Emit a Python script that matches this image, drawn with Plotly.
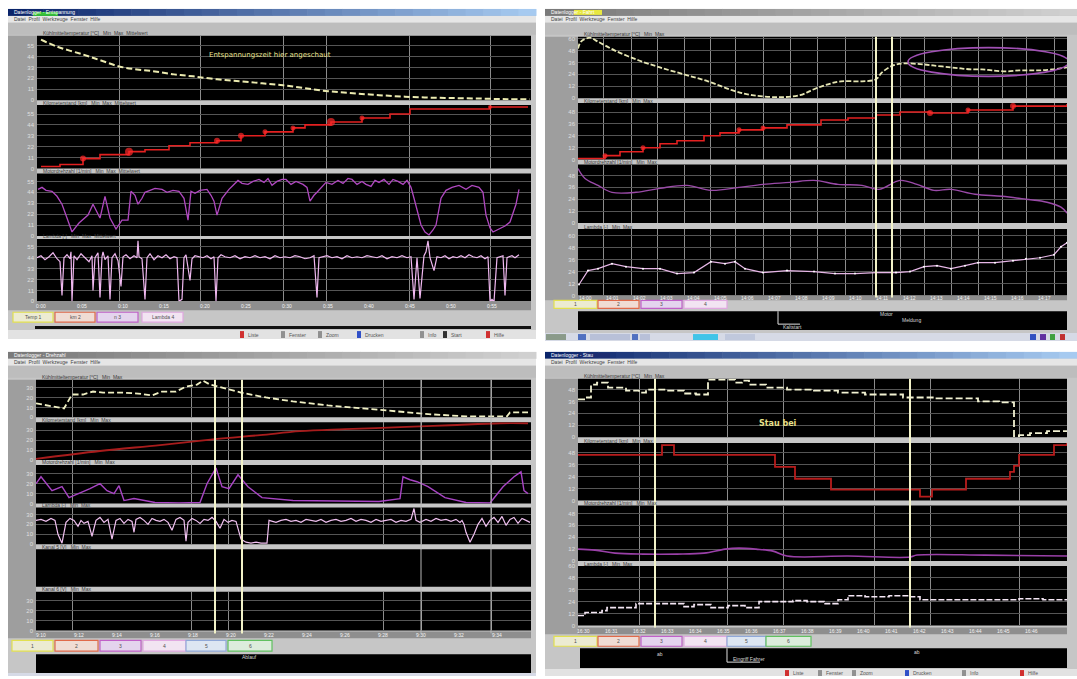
import plotly.graph_objects as go

W, H = 1077, 679

# ================= Messdaten =================
# Fenster 1 (oben links): Abkühlung, Entspannungszeit
A_yel_t = [4, 20, 46, 64, 82, 100, 118, 137, 156, 180, 204, 225, 246, 268, 291, 316, 342, 368, 394, 420, 446, 470, 493]
A_yel_v = [61, 54, 46, 40, 34, 31, 29, 26, 24, 21, 19, 17, 15, 12, 9, 7, 5, 3.5, 2.5, 2, 1.5, 1, 0.8]

A_red_t = [4, 23, 46, 63, 92, 108, 132, 153, 180, 204, 228, 256, 268, 294, 325, 353, 373, 453, 491]
A_red_v = [2, 4, 10, 14, 17, 19, 23, 26, 28, 33, 37, 41, 44, 47, 51, 55, 60, 62, 62]

A_pur_t = [1, 5, 9, 15, 20, 25, 30, 35, 42, 51, 56, 63, 68, 73, 79, 85, 91, 94, 98, 101,
           105, 108, 113, 118, 125, 130, 136, 142, 147, 151, 154, 158, 163, 170, 174, 177, 180, 185, 192, 197,
           201, 205, 211, 216, 222, 227, 231, 235, 240, 245, 249, 254, 259, 266, 270, 273, 277, 280, 285, 289,
           295, 301, 306, 311, 315, 320, 325, 329, 334, 338, 342, 347, 352, 356, 361, 366, 370, 374, 377, 381,
           384, 388, 392, 396, 399, 404, 409, 415, 422, 429, 435, 442, 446, 449, 453, 456, 460, 463, 468, 473,
           477, 479, 482]
A_pur_v = [47, 49, 46, 45, 40, 32, 18, 4, 13, 21, 32, 18, 40, 18, 7, 16, 16, 45, 41, 32,
           38, 44, 46, 48, 47, 44, 46, 45, 38, 16, 45, 43, 46, 47, 41, 35, 21, 38, 47, 52,
           56, 53, 52, 55, 57, 54, 58, 51, 55, 57, 57, 52, 55, 52, 49, 35, 41, 44, 50, 54,
           52, 56, 53, 58, 57, 52, 55, 52, 50, 56, 54, 57, 52, 57, 55, 52, 56, 49, 38, 24,
           11, 4, 1, 6, 11, 38, 46, 49, 51, 47, 51, 49, 44, 21, 8, 4, 6, 7, 10, 14,
           26, 32, 47]

A_pink_t = [0, 4, 8, 12, 16, 20, 23, 25, 27, 30, 33, 34, 35, 37, 40, 44, 48, 52, 55, 56,
            58, 61, 63, 65, 66, 68, 71, 73, 75, 78, 81, 84, 86, 89, 93, 97, 100, 101, 102, 105,
            108, 110, 113, 117, 121, 125, 129, 133, 137, 140, 142, 145, 147, 149, 153, 155, 158, 162, 166, 170,
            174, 177, 179, 181, 184, 188, 193, 198, 203, 208, 213, 218, 223, 228, 233, 238, 243, 248, 253, 258,
            263, 268, 273, 277, 280, 282, 286, 290, 295, 300, 305, 310, 315, 320, 325, 330, 335, 340, 345, 350,
            355, 360, 365, 370, 374, 377, 380, 383, 387, 389, 391, 393, 397, 400, 404, 408, 412, 416, 420, 424,
            428, 432, 436, 440, 444, 448, 451, 453, 455, 457, 460, 463, 466, 468, 470, 472, 475, 478, 482]
A_pink_v = [44, 46, 42, 45, 49, 43, 40, 6, 44, 47, 43, 50, 0, 46, 42, 48, 44, 40, 46, 11,
            44, 49, 4, 45, 50, 42, 46, 2, 44, 48, 41, 15, 45, 47, 43, 46, 44, 61, 45, 43,
            2, 44, 48, 42, 46, 44, 47, 43, 45, 44, 0, 2, 44, 47, 21, 43, 46, 45, 44, 46,
            43, 45, 0, 44, 47, 45, 44, 46, 43, 45, 44, 46, 44, 45, 43, 46, 44, 45, 44, 46,
            45, 43, 44, 46, 4, 44, 45, 46, 44, 45, 43, 46, 44, 45, 44, 46, 45, 44, 46, 43,
            45, 44, 46, 44, 45, 2, 44, 3, 46, 50, 61, 44, 31, 45, 44, 46, 43, 45, 44, 46,
            44, 47, 45, 44, 46, 43, 45, 0, 2, 0, 44, 45, 46, 6, 44, 45, 46, 44, 47]

A_ticks = ["0:00", "0:05", "0:10", "0:15", "0:20", "0:25", "0:30", "0:35", "0:40", "0:45", "0:50", "0:55"]

# Fenster 2 (oben rechts)
B_yel_t = [0, 3, 12, 20, 37, 61, 82, 106, 130, 154, 174, 202, 222, 236, 250, 263, 284, 298, 304, 315,
           325, 346, 355, 373, 383, 393, 404, 414, 428, 441, 452, 462, 474, 489]
B_yel_v = [50, 57, 61, 57, 48, 38, 31, 24, 17, 8, 3, 1, 3, 9, 14, 17, 17, 19, 26, 33,
           35, 34, 33, 31, 30, 29, 29, 28, 27, 28, 28, 28, 29, 31]

B_red_t = [0, 12, 27, 42, 65, 82, 99, 126, 142, 161, 185, 209, 243, 270, 298, 322, 352, 390, 435, 489]
B_red_v = [1, 1, 4, 8, 12, 16, 19, 24, 27, 30, 32, 35, 40, 42, 45, 48, 47, 50, 54, 56]

B_pur_t = [0, 7, 20, 34, 58, 82, 109, 133, 161, 185, 212, 236, 260, 284, 301, 322, 339, 356, 373, 397,
           424, 448, 469, 483, 489]
B_pur_v = [55, 45, 38, 31, 31, 35, 38, 33, 36, 39, 41, 43, 39, 38, 34, 43, 39, 33, 34, 29,
           27, 24, 21, 16, 10]

B_pink_t = [1, 10, 20, 34, 48, 65, 82, 99, 116, 133, 147, 157, 167, 185, 209, 236, 257, 277, 298, 318,
            332, 346, 359, 373, 387, 400, 417, 435, 448, 462, 476, 483, 489]
B_pink_v = [11, 25, 27, 32, 29, 27, 27, 22, 23, 34, 32, 34, 27, 23, 25, 24, 22, 22, 23, 23,
            24, 29, 30, 27, 30, 33, 33, 35, 37, 38, 41, 49, 53]

B_ticks = ["14:00", "14:01", "14:02", "14:03", "14:04", "14:05", "14:06", "14:07", "14:08",
           "14:09", "14:10", "14:11", "14:12", "14:13", "14:14", "14:15", "14:16", "14:17"]

# Fenster 3 (unten links)
C_yel_t = [0, 12, 28, 36, 47, 57, 67, 85, 102, 116, 126, 140, 150, 161, 167, 174, 185, 205, 230, 257,
           292, 326, 361, 395, 430, 471, 474, 492]
C_yel_v = [14, 12, 9, 23, 23, 26, 25, 25, 24, 22, 26, 26, 31, 33, 37, 33, 30, 25, 20, 16,
           12, 9, 6, 3, 1, 1, 5, 5]

C_red_t = [0, 64, 124, 179, 224, 264, 309, 364, 414, 464, 492]
C_red_v = [1, 9, 15, 21, 25, 29, 31, 33, 35, 37, 37]

C_pur_t = [0, 5, 16, 26, 33, 43, 54, 64, 71, 78, 83, 88, 98, 119, 143, 164, 171, 180, 186, 193,
           202, 212, 226, 257, 309, 343, 364, 367, 374, 381, 392, 409, 430, 454, 467, 478, 485, 488, 492]
C_pur_v = [20, 27, 13, 17, 6, 10, 15, 20, 13, 10, 18, 3, 5, 1, 0.5, 1, 20, 36, 17, 15,
           29, 17, 6, 3, 2, 2, 5, 27, 24, 22, 17, 6, 1, 0.5, 17, 27, 32, 13, 10]

C_pink_t = [0, 5, 10, 15, 19, 22, 26, 30, 34, 38, 42, 45, 48, 52, 56, 60, 64, 68, 72, 76,
            80, 84, 88, 92, 96, 98, 100, 104, 108, 112, 116, 120, 124, 128, 132, 136, 140, 144, 148, 150,
            152, 156, 160, 164, 168, 172, 176, 180, 184, 188, 192, 196, 200,
            205, 210, 215, 220, 225, 231, 233,
            240, 245, 250, 255, 260, 265, 270, 275, 280, 285, 290, 295, 300, 305, 310, 315, 320, 325, 330, 335,
            340, 345, 350, 355, 360, 365, 370, 375, 378, 380, 384, 390, 395, 400, 405, 410, 415, 420, 424, 426,
            428, 430, 434, 438, 442, 446, 450, 454, 458, 462, 466, 470, 474, 478, 482, 486, 490, 494]
C_pink_v = [24, 25, 23, 26, 24, 10, 1, 22, 26, 24, 18, 24, 21, 23, 8, 24, 27, 22, 25, 5,
            24, 26, 21, 25, 23, 12, 25, 27, 24, 20, 26, 24, 23, 25, 22, 14, 25, 27, 24, 3,
            22, 26, 24, 21, 25, 24, 27, 23, 16, 25, 22, 24, 23,
            5, 2, 1, 2, 1, 1, 24,
            22, 24, 25, 23, 24, 22, 25, 24, 23, 25, 22, 24, 25, 23, 24, 26, 23, 25, 24, 22,
            25, 23, 24, 25, 22, 24, 23, 25, 36, 24, 22, 25, 23, 26, 24, 25, 23, 25, 22, 24,
            20, 12, 2, 10, 20, 26, 18, 24, 27, 22, 28, 19, 25, 27, 21, 26, 24, 22]

C_ticks = ["9:10", "9:12", "9:14", "9:16", "9:18", "9:20", "9:22", "9:24", "9:26", "9:28", "9:30", "9:32", "9:34"]

# Fenster 4 (unten rechts): Stau
D_yel_t = [0, 7, 13, 19, 30, 48, 61, 68, 89, 106, 118, 130, 140, 157, 164, 171, 188, 209, 236, 260,
           287, 325, 356, 400, 421, 436, 436, 441, 452, 469, 489]
D_yel_v = [38, 40, 53, 55, 50, 47, 45, 48, 47, 44, 43, 58, 58, 55, 57, 53, 50, 48, 47, 45,
           43, 40, 39, 36, 35, 35, 1, 2, 4, 6, 6]

D_red_t = [0, 84, 96, 197, 217, 253, 342, 354, 388, 432, 436, 441, 476, 489]
D_red_v = [46, 56, 46, 34, 22, 11, 4, 11, 22, 29, 35, 46, 56, 58]

D_pur_t = [0, 17, 37, 65, 99, 126, 147, 161, 178, 195, 209, 270, 332, 339, 407, 489]
D_pur_v = [12, 11, 8, 7, 7, 8, 12, 13, 12, 10, 5, 5, 4, 6, 6, 5]

D_pink_t = [0, 7, 24, 29, 41, 58, 82, 106, 116, 133, 150, 167, 181, 202, 215, 229, 246, 260, 270, 287,
            311, 332, 342, 366, 390, 417, 441, 465, 489]
D_pink_v = [10, 13, 15, 18, 18, 22, 22, 19, 21, 18, 20, 18, 24, 24, 25, 24, 22, 26, 30, 29,
            30, 29, 26, 26, 26, 26, 27, 26, 26]

D_ticks = ["16:30", "16:31", "16:32", "16:33", "16:34", "16:35", "16:36", "16:37", "16:38",
           "16:39", "16:40", "16:41", "16:42", "16:43", "16:44", "16:45", "16:46"]

CHANNELS = ["Kühlmitteltemperatur [°C]", "Kilometerstand [km]", "Motordrehzahl [1/min]", "Lambda [-]",
            "Kanal 5 [V]", "Kanal 6 [V]"]

# ================= Zeichnen =================
fig = go.Figure()
axes = {}
shapes = []
notes = []
count = [0]

FRAME = '#c6c6c6'
LEFTCOL = '#9e9e9e'
SANS = 'Liberation Sans'


def P(x):
    return x / W


def Q(y):
    return 1 - y / H


def rect(x0, y0, x1, y1, fill, line=None, lw=0):
    shapes.append(dict(type='rect', xref='paper', yref='paper', x0=P(x0), x1=P(x1), y0=Q(y1), y1=Q(y0),
                       fillcolor=fill, line=dict(width=lw, color=line or fill), layer='below'))


def text(x, y, s, size=5, color='#333333', anchor='left', family=SANS):
    notes.append(dict(xref='paper', yref='paper', x=P(x), y=Q(y), text=s, showarrow=False,
                      xanchor=anchor, yanchor='middle', font=dict(size=size, color=color, family=family)))


def mix(c1, c2, f):
    a = [int(c1[i:i + 2], 16) for i in (1, 3, 5)]
    b = [int(c2[i:i + 2], 16) for i in (1, 3, 5)]
    return '#%02x%02x%02x' % tuple(int(a[k] + (b[k] - a[k]) * f) for k in range(3))


def gradient(x0, y0, x1, y1, c1, c2, steps=30):
    w = (x1 - x0) / steps
    for i in range(steps):
        rect(x0 + i * w, y0, x0 + (i + 1) * w + 0.5, y1, mix(c1, c2, i / (steps - 1)))


def strip(x0, x1, y0, y1, xgrid, ydt):
    count[0] += 1
    n = count[0]
    s = '' if n == 1 else str(n)
    rect(x0, y0, x1, y1, '#000000')
    axes['xaxis' + s] = dict(domain=[P(x0), P(x1)], range=[0, x1 - x0], anchor='y' + s, tickvals=xgrid,
                             showticklabels=False, showgrid=True, gridcolor='#8c8c8c', gridwidth=1,
                             zeroline=False, showline=False, ticks='', fixedrange=True)
    axes['yaxis' + s] = dict(domain=[Q(y1), Q(y0)], range=[0, y1 - y0], anchor='x' + s, dtick=ydt, tick0=0,
                             showgrid=True, gridcolor='#555555', zeroline=False, showline=False, ticks='',
                             tickfont=dict(size=6, color='#dedede', family=SANS), ticklabelstandoff=2,
                             fixedrange=True)
    return 'x' + s, 'y' + s


def line(xa, ya, t, v, color, width=1.4, dash='solid', shape='linear', mode='lines', msize=None, mcolor=None):
    tr = go.Scatter(x=t, y=v, xaxis=xa, yaxis=ya, mode=mode, hoverinfo='skip', showlegend=False,
                    line=dict(color=color, width=width, dash=dash, shape=shape))
    if msize is not None:
        tr.marker = dict(size=msize, color=mcolor or color, line=dict(width=0))
    fig.add_trace(tr)


def window(x0, y0, x1, y1, active, title):
    rect(x0, y0, x1, y1, FRAME)
    if active:
        gradient(x0, y0, x1, y0 + 7, '#0a246a', '#a6caf0')
    else:
        gradient(x0, y0, x1, y0 + 7, '#7a7a7a', '#d0d0d0')
    text(x0 + 4, y0 + 3.5, title, size=5, color='#ffffff')
    rect(x0, y0 + 7, x1, y0 + 14, '#e6e6e6')
    text(x0 + 4, y0 + 10.5, 'Datei  Profil  Werkzeuge  Fenster  Hilfe', size=5, color='#444444')
    rect(x0, y0 + 14, x1, y0 + 26, '#bdbdbd')


def left_column(x0, x1, y0, y1):
    rect(x0, y0, x1, y1, LEFTCOL)


def tick_band(xa, x0, x1, y0, y1, labels, t0, step):
    rect(x0, y0, x1, y1, '#8e8e8e')
    for i, lab in enumerate(labels):
        notes.append(dict(xref=xa, yref='paper', x=t0 + i * step, y=Q((y0 + y1) / 2), text=lab,
                          showarrow=False, xanchor='center', yanchor='middle',
                          font=dict(size=5, color='#f4f4f4', family=SANS)))


def legend_boxes(y0, y1, boxes):
    for (bx0, bx1, fill, border, label) in boxes:
        rect(bx0, y0, bx1, y1, fill, border, 1.2)
        text((bx0 + bx1) / 2, (y0 + y1) / 2, label, size=5, color='#505050', anchor='center')


def header(x0, y, label):
    text(x0 + 4, y, label, size=5, color='#3a3a3a')


def cursor(xa, t, ytop, ybot, color='#f2f2c8', width=2):
    shapes.append(dict(type='line', xref=xa, yref='paper', x0=t, x1=t, y0=Q(ybot), y1=Q(ytop),
                       line=dict(color=color, width=width), layer='above'))


YEL_BOX = ('#ecebd2', '#e2e050')
RED_BOX = ('#f0dcd4', '#e06a4a')
PUR_BOX = ('#e4d4ee', '#c060c8')
PNK_BOX = ('#f2e4f2', '#e0a8e0')
BLU_BOX = ('#dde6f2', '#90a8d8')
GRN_BOX = ('#dcecdc', '#60c060')

# ---------- Fenster 1 ----------
window(8, 6, 536, 339, True, 'Datenlogger - Entspannung')
rect(33, 9, 58, 13, '#36c236')
left_column(8, 37, 33, 310)
A_grid = [82, 163, 246, 289, 372, 453]
A_rows = [(33, 98), (103, 167), (172, 235), (238, 301)]
A_ax = []
for i, (ya, yb) in enumerate(A_rows):
    header(37, ya - 2.5, CHANNELS[i] + '   Min  Max  Mittelwert')
    A_ax.append(strip(37, 531, ya, yb, A_grid, 11))
line(*A_ax[0], A_yel_t, A_yel_v, '#ecebb0', 2, dash='6px,3px', shape='spline')
line(*A_ax[1], A_red_t, A_red_v, '#e42020', 1.6, shape='hv', mode='lines+markers',
     msize=[0, 0, 6, 0, 8, 0, 0, 0, 6, 6, 5, 5, 0, 8, 5, 0, 0, 4, 0], mcolor='#ff2a2a')
line(*A_ax[2], A_pur_t, A_pur_v, '#b048c0', 1.3)
line(*A_ax[3], A_pink_t, A_pink_v, '#f0b8f0', 1.2)
notes.append(dict(xref=A_ax[0][0], yref=A_ax[0][1], x=233, y=46, text='Entspannungszeit hier angeschaut',
                  showarrow=False, font=dict(size=7, color='#e8e290', family='DejaVu Sans')))
tick_band(A_ax[3][0], 37, 531, 301, 310, A_ticks, 4, 41)
legend_boxes(312, 322, [(13, 53) + YEL_BOX + ('Temp 1',), (55, 95) + RED_BOX + ('km 2',),
                        (97, 138) + PUR_BOX + ('n 3',), (142, 183) + PNK_BOX + ('Lambda 4',)])
rect(35, 326, 531, 329, '#111111')
rect(8, 330, 536, 339, '#e2e2e2')
for (gx, col, lab) in [(240, '#d03030', 'Liste'), (281, '#909090', 'Fenster'), (318, '#909090', 'Zoom'),
                       (357, '#3050c8', 'Drucken'), (420, '#909090', 'Info'), (443, '#303030', 'Start'),
                       (486, '#d03030', 'Hilfe')]:
    rect(gx, 331, gx + 4, 338, col)
    text(gx + 6, 334.5, lab, size=5, color='#555555')

# ---------- Fenster 2 ----------
window(545, 6, 1077, 341, False, 'Datenlogger - Fahrt')
rect(574, 7, 602, 12, '#e8e840')
left_column(545, 578, 34, 300)
B_grid = [25, 53, 79, 106, 132, 157, 185, 212, 239, 267, 294, 322, 346, 373, 400, 424, 448, 476]
B_rows = [(34, 96), (101, 158), (163, 222), (228, 295)]
B_ax = []
for i, (ya, yb) in enumerate(B_rows):
    header(578, ya - 2.5, CHANNELS[i] + '   Min  Max')
    B_ax.append(strip(578, 1067, ya, yb, B_grid, 12))
line(*B_ax[0], B_yel_t, B_yel_v, '#e6e6b4', 1.8, dash='5px,2px', shape='spline')
line(*B_ax[1], B_red_t, B_red_v, '#e42020', 1.6, shape='hv', mode='lines+markers',
     msize=[0, 0, 5, 0, 5, 0, 0, 0, 0, 5, 5, 0, 0, 0, 0, 0, 6, 5, 6, 0], mcolor='#ff2a2a')
line(*B_ax[2], B_pur_t, B_pur_v, '#9a4aa8', 1.4, shape='spline')
line(*B_ax[3], B_pink_t, B_pink_v, '#e6b6e6', 1.2, mode='lines+markers', msize=2, mcolor='#ffffff')
shapes.append(dict(type='circle', xref=B_ax[0][0], yref=B_ax[0][1], x0=330, x1=491, y0=22, y1=51,
                   line=dict(color='#a050b4', width=1.6), layer='above'))
for tc in (298, 314):
    cursor(B_ax[0][0], tc, 34, 297)
tick_band(B_ax[3][0], 578, 1067, 295, 300, B_ticks, 7, 27)
legend_boxes(300, 308, [(554, 597) + YEL_BOX + ('1',), (598, 639) + RED_BOX + ('2',),
                        (641, 682) + PUR_BOX + ('3',), (684, 727) + PNK_BOX + ('4',)])
rect(578, 311, 1067, 330, '#000000')
shapes.append(dict(type='path', xref='paper', yref='paper',
                   path='M %f %f L %f %f L %f %f' % (P(778), Q(311), P(778), Q(324), P(800), Q(324)),
                   line=dict(color='#e0e0e0', width=1), layer='above'))
text(781, 327, 'Kaltstart', size=5, color='#d8d8d8')
text(878, 314, 'Motor', size=5, color='#d8d8d8')
text(900, 320, 'Meldung', size=5, color='#d8d8d8')
rect(545, 333, 1077, 341, '#d6dae6')
for (gx, gw, col) in [(546, 20, '#8a9a8a'), (578, 8, '#5070c0'), (590, 40, '#b8c0d8'), (632, 6, '#5070c0'),
                      (640, 10, '#b8c0d8'), (693, 25, '#40c4e8'), (725, 30, '#c0c8dc'),
                      (1030, 6, '#3050c0'), (1040, 6, '#6030a0'), (1050, 5, '#40a040'), (1060, 5, '#c03030')]:
    rect(gx, 334, gx + gw, 340, col)

# ---------- Fenster 3 ----------
window(8, 352, 536, 679, False, 'Datenlogger - Drehzahl')
left_column(8, 36, 380, 641)
C_grid = [36, 155, 192, 347, 385, 455]
C_rows = [(380, 418), (423, 461), (466, 505), (509, 546), (551, 589), (594, 633)]
C_ax = []
for i, (ya, yb) in enumerate(C_rows):
    header(36, ya - 2.5, CHANNELS[i] + '   Min  Max')
    C_ax.append(strip(36, 531, ya, yb, C_grid, 10))
line(*C_ax[0], C_yel_t, C_yel_v, '#f0f0c4', 1.8, dash='6px,3px')
line(*C_ax[1], C_red_t, C_red_v, '#a81c1c', 1.8, shape='spline')
line(*C_ax[2], C_pur_t, C_pur_v, '#a844c4', 1.4)
line(*C_ax[3], C_pink_t, C_pink_v, '#f0c0f0', 1.2)
for tc in (179, 206):
    cursor(C_ax[0][0], tc, 380, 636)
for tc in (385, 455):
    cursor(C_ax[0][0], tc, 380, 636, color='#b8b8b8', width=1)
tick_band(C_ax[5][0], 36, 531, 634, 641, C_ticks, 5, 38)
legend_boxes(643, 654, [(12, 53) + YEL_BOX + ('1',), (55, 98) + RED_BOX + ('2',),
                        (100, 141) + PUR_BOX + ('3',), (143, 186) + PNK_BOX + ('4',),
                        (186, 226) + BLU_BOX + ('5',), (228, 272) + GRN_BOX + ('6',)])
rect(36, 657, 531, 676, '#000000')
text(240, 660, 'Ablauf', size=5, color='#d8d8d8')
rect(8, 676, 536, 679, '#d6dae6')

# ---------- Fenster 4 ----------
window(545, 352, 1077, 679, True, 'Datenlogger - Stau')
rect(580, 353, 610, 358, '#1c2c70')
left_column(545, 578, 379, 637)
D_grid = [61, 149, 205, 296, 352, 441]
D_rows = [(379, 438), (444, 502), (507, 563), (568, 628)]
D_ax = []
for i, (ya, yb) in enumerate(D_rows):
    header(578, ya - 2.5, CHANNELS[i] + '   Min  Max')
    D_ax.append(strip(578, 1067, ya, yb, D_grid, 12))
line(*D_ax[0], D_yel_t, D_yel_v, '#f2f2d2', 1.8, dash='7px,3px', shape='hv')
line(*D_ax[1], D_red_t, D_red_v, '#b81c1c', 1.8, shape='hv')
line(*D_ax[2], D_pur_t, D_pur_v, '#9a40a8', 1.6, shape='spline')
line(*D_ax[3], D_pink_t, D_pink_v, '#f4e6f4', 1.6, dash='6px,2px', shape='hv')
notes.append(dict(xref=D_ax[0][0], yref=D_ax[0][1], x=200, y=14, text='<b>Stau bei</b>',
                  showarrow=False, font=dict(size=8, color='#e8e08a', family='DejaVu Sans')))
for tc in (77, 332):
    cursor(D_ax[0][0], tc, 379, 630)
tick_band(D_ax[3][0], 578, 1067, 630, 637, D_ticks, 5, 28)
legend_boxes(639, 649, [(554, 597) + YEL_BOX + ('1',), (598, 639) + RED_BOX + ('2',),
                        (641, 682) + PUR_BOX + ('3',), (684, 727) + PNK_BOX + ('4',),
                        (727, 766) + BLU_BOX + ('5',), (766, 811) + GRN_BOX + ('6',)])
rect(580, 651, 1067, 671, '#000000')
text(655, 657, 'ab', size=5, color='#d8d8d8')
text(912, 655, 'ab', size=5, color='#d8d8d8')
shapes.append(dict(type='path', xref='paper', yref='paper',
                   path='M %f %f L %f %f L %f %f' % (P(727), Q(651), P(727), Q(665), P(760), Q(665)),
                   line=dict(color='#e0e0e0', width=1), layer='above'))
text(731, 662, 'Eingriff Fahrer', size=5, color='#d8d8d8')
rect(545, 672, 1077, 679, '#e2e2e2')
for (gx, col, lab) in [(785, '#d03030', 'Liste'), (818, '#909090', 'Fenster'), (852, '#909090', 'Zoom'),
                       (905, '#3050c8', 'Drucken'), (962, '#909090', 'Info'), (1020, '#d03030', 'Hilfe')]:
    rect(gx, 673, gx + 4, 679, col)
    text(gx + 6, 676, lab, size=5, color='#555555')

fig.update_layout(
    width=W, height=H, margin=dict(l=0, r=0, t=0, b=0),
    paper_bgcolor='#ffffff', plot_bgcolor='rgba(0,0,0,0)',
    showlegend=False, shapes=shapes, annotations=notes, **axes,
)

fig.write_html("out.html")
